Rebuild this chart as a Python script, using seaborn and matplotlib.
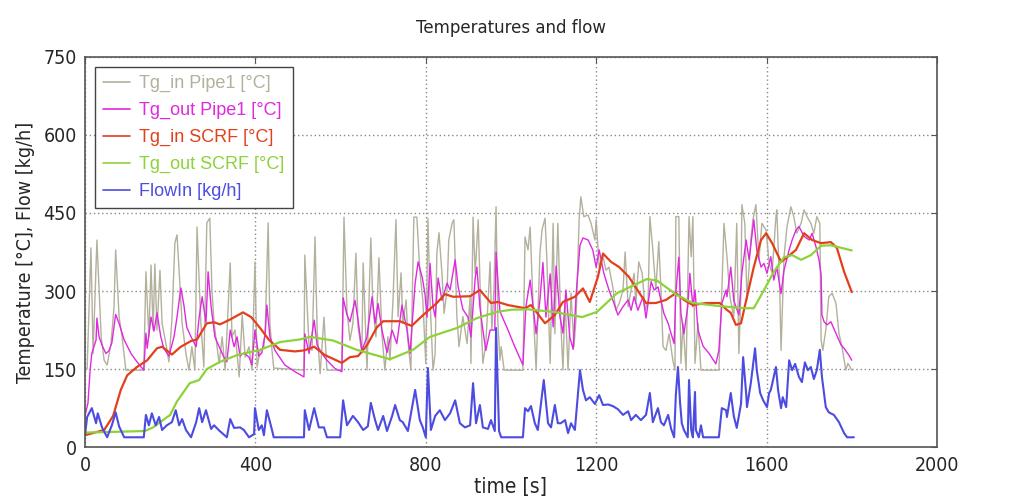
import pandas as pd
import matplotlib.pyplot as plt
import seaborn as sns
from matplotlib import font_manager

# ---- data (time [s], value) ----
tg_in_pipe1 = [(0,150),(5,150),(14,383),(19,180),(28,398),(38,212),(45,167),(52,158),(61,199),(68,267),(72,379),(80,251),(87,212),(96,148),(138,148),(143,337),(150,212),(155,350),(160,225),(164,352),(169,225),(176,340),(181,238),(190,199),(197,164),(204,244),(211,392),(216,408),(223,308),(228,238),(237,180),(244,148),(251,193),(258,148),(263,423),(272,238),(279,154),(286,431),(293,440),(298,302),(303,238),(315,161),(322,212),(329,148),(341,354),(345,212),(352,225),(362,135),(369,254),(376,173),(385,193),(392,148),(399,356),(404,154),(411,186),(420,193),(423,225),(430,431),(434,238),(439,186),(443,152),(514,148),(516,369),(526,193),(533,186),(540,404),(545,225),(552,141),(561,250),(568,148),(603,148),(608,442),(615,263),(622,205),(629,238),(636,373),(641,231),(650,180),(653,354),(662,148),(671,402),(676,270),(683,212),(690,364),(697,218),(704,148),(711,212),(716,167),(723,283),(730,437),(735,251),(742,335),(746,238),(754,283),(758,205),(765,148),(772,442),(779,442),(786,340),(793,283),(800,161),(805,440),(810,283),(817,148),(822,180),(826,373),(831,412),(838,334),(843,257),(850,302),(854,398),(862,431),(866,437),(873,251),(878,193),(887,251),(897,199),(904,289),(906,161),(911,442),(916,334),(923,437),(930,238),(934,161),(941,199),(951,356),(955,225),(960,302),(965,462),(969,244),(974,167),(977,193),(984,148),(1028,148),(1033,404),(1040,379),(1045,423),(1052,270),(1059,148),(1068,373),(1073,418),(1080,440),(1084,366),(1092,161),(1099,430),(1103,218),(1110,430),(1117,238),(1122,148),(1127,283),(1134,148),(1141,296),(1148,193),(1153,251),(1160,437),(1164,481),(1171,443),(1181,446),(1188,430),(1197,398),(1200,437),(1207,347),(1216,366),(1223,340),(1230,346),(1239,308),(1246,263),(1254,276),(1263,302),(1268,375),(1275,270),(1282,302),(1289,334),(1293,276),(1300,356),(1308,334),(1315,263),(1322,283),(1326,443),(1333,379),(1340,302),(1347,395),(1352,302),(1357,193),(1364,186),(1371,218),(1380,167),(1385,148),(1387,443),(1394,443),(1399,161),(1404,238),(1411,148),(1418,443),(1423,366),(1427,443),(1432,161),(1439,238),(1446,148),(1488,148),(1495,302),(1500,430),(1507,366),(1514,289),(1523,251),(1530,430),(1535,180),(1540,302),(1542,466),(1549,430),(1554,283),(1563,398),(1568,437),(1575,466),(1582,360),(1589,430),(1599,417),(1606,353),(1613,334),(1622,443),(1624,456),(1631,302),(1634,186),(1641,366),(1648,424),(1657,462),(1664,443),(1671,411),(1681,430),(1688,456),(1695,443),(1704,430),(1711,411),(1718,443),(1725,430),(1728,206),(1732,186),(1739,225),(1746,289),(1754,296),(1763,276),(1770,218),(1777,193),(1786,148),(1791,161),(1800,148)]

tg_out_pipe1 = [(0,60),(7,85),(12,148),(16,180),(26,206),(28,248),(33,212),(40,196),(49,180),(56,185),(63,200),(72,255),(80,238),(92,206),(108,180),(122,164),(138,148),(143,219),(146,190),(155,250),(162,223),(169,258),(178,212),(185,190),(197,175),(209,212),(216,250),(225,306),(232,274),(239,230),(249,212),(261,193),(268,250),(275,289),(284,240),(289,337),(296,270),(305,212),(315,193),(326,173),(333,164),(341,225),(350,193),(357,212),(364,175),(373,181),(385,173),(392,158),(399,225),(408,175),(415,181),(423,218),(427,273),(434,212),(446,186),(469,158),(493,145),(514,135),(516,218),(526,180),(538,244),(545,196),(556,180),(568,167),(587,151),(603,145),(606,287),(615,254),(622,241),(634,282),(641,244),(650,186),(662,212),(674,289),(681,238),(688,276),(697,225),(709,182),(721,225),(732,199),(744,273),(756,225),(763,180),(775,315),(782,356),(792,325),(798,295),(803,250),(810,353),(817,270),(822,250),(829,325),(838,282),(850,315),(857,302),(869,360),(876,308),(887,265),(899,250),(906,212),(916,325),(920,346),(927,270),(934,225),(941,186),(951,225),(962,225),(965,375),(974,261),(993,225),(1009,193),(1028,158),(1035,270),(1045,321),(1052,270),(1059,218),(1068,283),(1075,355),(1082,250),(1092,333),(1099,231),(1106,348),(1115,250),(1122,219),(1129,302),(1138,212),(1146,188),(1153,294),(1162,388),(1169,402),(1181,398),(1192,379),(1200,346),(1207,379),(1218,334),(1230,302),(1242,276),(1251,254),(1263,270),(1275,283),(1282,263),(1289,289),(1298,263),(1310,289),(1317,248),(1329,318),(1336,302),(1345,308),(1352,282),(1359,257),(1369,238),(1376,218),(1383,199),(1387,296),(1394,365),(1399,257),(1406,218),(1415,270),(1420,334),(1427,270),(1432,302),(1439,225),(1451,194),(1465,180),(1481,160),(1488,186),(1495,276),(1505,302),(1507,289),(1516,346),(1523,282),(1535,254),(1542,334),(1552,398),(1559,360),(1570,437),(1577,379),(1587,346),(1594,353),(1601,334),(1610,366),(1617,321),(1624,346),(1634,295),(1641,340),(1653,379),(1660,398),(1669,417),(1676,424),(1688,405),(1700,398),(1707,411),(1716,385),(1723,360),(1728,332),(1730,254),(1735,241),(1742,235),(1751,241),(1758,228),(1765,215),(1775,196),(1782,190),(1793,177),(1800,167)]

tg_in_scrf = [(0,23),(45,33),(66,60),(84,110),(99,138),(122,154),(146,167),(169,190),(181,193),(204,178),(225,193),(249,204),(263,207),(286,238),(303,240),(317,236),(340,245),(371,259),(390,250),(411,229),(432,206),(458,187),(493,184),(515,186),(538,193),(563,177),(603,162),(622,173),(641,175),(662,196),(685,230),(700,242),(739,242),(767,233),(786,248),(805,262),(826,277),(845,294),(864,289),(904,290),(927,302),(953,277),(969,279),(993,273),(1033,267),(1047,273),(1080,238),(1103,254),(1122,279),(1150,289),(1169,305),(1185,279),(1204,327),(1216,372),(1235,356),(1254,346),(1277,327),(1300,298),(1317,277),(1340,277),(1364,283),(1387,296),(1406,283),(1427,273),(1458,277),(1490,277),(1505,265),(1516,258),(1528,235),(1540,238),(1554,289),(1570,346),(1587,398),(1599,411),(1613,392),(1634,356),(1648,365),(1669,379),(1688,411),(1707,398),(1728,392),(1751,394),(1765,383),(1782,337),(1800,298)]

tg_out_scrf = [(0,28),(140,31),(160,38),(183,52),(200,62),(216,88),(246,123),(268,129),(286,150),(317,164),(357,177),(411,187),(458,202),(505,207),(528,212),(582,205),(638,187),(716,169),(770,187),(810,212),(873,229),(920,248),(967,260),(1000,264),(1038,265),(1099,260),(1167,250),(1202,260),(1249,296),(1319,323),(1343,320),(1390,292),(1427,277),(1491,271),(1547,267),(1570,267),(1594,302),(1617,337),(1641,365),(1660,369),(1681,360),(1704,369),(1728,387),(1751,388),(1800,378)]

flow_in = [(0,23),(5,58),(16,75),(26,46),(30,65),(40,38),(52,19),(63,42),(72,67),(80,40),(92,19),(138,19),(143,62),(150,42),(157,65),(166,42),(174,58),(181,33),(192,42),(204,48),(213,71),(221,42),(228,54),(237,33),(249,19),(261,48),(268,75),(275,48),(284,71),(296,35),(303,42),(315,32),(333,19),(341,54),(350,37),(364,38),(373,33),(385,19),(397,25),(399,75),(408,33),(415,42),(420,23),(427,71),(439,33),(443,19),(514,19),(516,71),(526,33),(538,75),(549,38),(561,38),(568,19),(599,19),(606,90),(615,42),(629,60),(641,48),(653,33),(664,40),(671,85),(681,52),(688,33),(700,60),(709,31),(721,60),(728,81),(739,52),(746,48),(758,31),(775,110),(786,52),(793,38),(800,19),(805,152),(812,33),(822,60),(833,71),(845,52),(857,65),(869,90),(880,46),(892,38),(904,42),(911,123),(918,46),(927,81),(934,38),(946,35),(953,52),(962,31),(965,229),(972,31),(977,19),(1028,19),(1033,75),(1040,69),(1047,79),(1056,46),(1063,33),(1077,129),(1087,46),(1094,38),(1103,81),(1110,46),(1117,46),(1127,52),(1134,27),(1141,46),(1150,33),(1162,148),(1169,110),(1176,90),(1185,96),(1197,83),(1207,100),(1216,81),(1228,82),(1239,79),(1251,73),(1263,62),(1275,69),(1282,52),(1293,62),(1305,52),(1317,62),(1326,104),(1333,48),(1345,75),(1352,48),(1359,42),(1369,62),(1376,35),(1383,19),(1387,100),(1392,154),(1397,85),(1401,46),(1406,33),(1415,19),(1418,129),(1423,33),(1427,19),(1432,106),(1434,33),(1441,19),(1446,42),(1451,19),(1488,19),(1495,75),(1505,71),(1507,58),(1516,104),(1523,60),(1530,37),(1540,83),(1545,173),(1552,104),(1554,77),(1563,123),(1573,190),(1577,148),(1585,104),(1592,90),(1601,77),(1606,104),(1610,110),(1622,154),(1627,110),(1634,75),(1638,96),(1646,77),(1653,167),(1660,148),(1667,160),(1676,135),(1683,125),(1690,163),(1697,148),(1704,154),(1711,131),(1718,148),(1725,187),(1730,135),(1739,77),(1746,67),(1758,62),(1770,48),(1782,27),(1789,19),(1805,19)]

series = [
    ('Tg_in Pipe1 [°C]', tg_in_pipe1, '#b3b09c', 1.0),
    ('Tg_out Pipe1 [°C]', tg_out_pipe1, '#e028e0', 1.0),
    ('Tg_in SCRF [°C]', tg_in_scrf, '#e2401c', 1.6),
    ('Tg_out SCRF [°C]', tg_out_scrf, '#8ed23a', 1.6),
    ('FlowIn [kg/h]', flow_in, '#4c4ce0', 1.5),
]

x_ticks = [0, 400, 800, 1200, 1600, 2000]
y_ticks = [0, 150, 300, 450, 600, 750]

sns.set_style('white')
plt.rcParams['font.family'] = ['DejaVu Sans']

# condensed face for ticks and axis labels (falls back to normal DejaVu)
cond = font_manager.FontProperties(family='DejaVu Sans', stretch='condensed', size=14)

fig = plt.figure(figsize=(10.24, 5.03), dpi=100)
ax = fig.add_axes([0.083, 0.111, 0.832, 0.776])

for name, pts, col, lw in series:
    d = pd.DataFrame(pts, columns=['t', 'v'])
    sns.lineplot(data=d, x='t', y='v', ax=ax, color=col, linewidth=lw,
                 label=name, estimator=None, sort=False)

ax.set_xlim(0, 2000)
ax.set_ylim(0, 750)
ax.set_xticks(x_ticks)
ax.set_yticks(y_ticks)
for lab in ax.get_xticklabels() + ax.get_yticklabels():
    lab.set_fontproperties(cond)
ax.tick_params(direction='in', length=4, top=True, right=True, color='#555555', pad=6)
ax.grid(True, linestyle=(0, (1, 2)), color='#888888', linewidth=1)
for s in ax.spines.values():
    s.set_color('#555555')
    s.set_linewidth(1.2)

ax.set_title('Temperatures and flow', fontsize=12, pad=17)
ax.set_xlabel('time [s]', fontproperties=cond, fontsize=15, labelpad=2)
ax.set_ylabel('Temperature [°C], Flow [kg/h]', fontproperties=cond, fontsize=14, labelpad=6)

leg = ax.legend(loc='upper left', bbox_to_anchor=(0.0, 1.0), borderaxespad=0.55,
                fancybox=False, edgecolor='#444444', framealpha=1, handlelength=1.5,
                handletextpad=0.5, labelspacing=0.55, borderpad=0.45,
                prop={'family': 'Liberation Sans', 'size': 13})
leg.get_frame().set_linewidth(1.0)
for txt, (name, pts, col, lw) in zip(leg.get_texts(), series):
    txt.set_color(col)
for h in leg.get_lines():
    h.set_linewidth(1.2)

fig.savefig('out.png', dpi=100)
